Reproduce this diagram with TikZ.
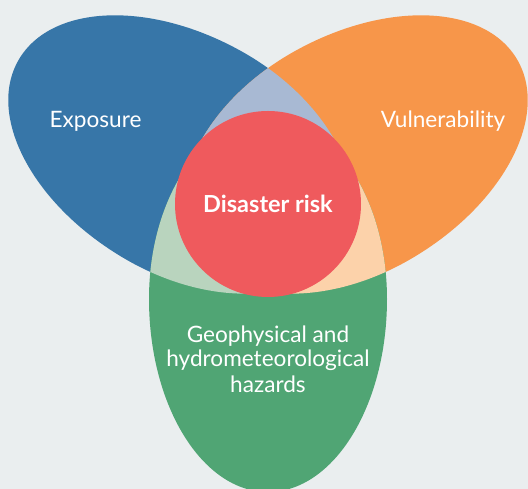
\documentclass[tikz,border=0pt]{standalone}
\usepackage{fontspec}
\setmainfont{Lato}
\definecolor{bg}{HTML}{EAEEEF}
\definecolor{expo}{HTML}{3776A8}
\definecolor{vuln}{HTML}{F7964A}
\definecolor{haz}{HTML}{50A574}
\definecolor{expovuln}{HTML}{A8B9D3}
\definecolor{expohaz}{HTML}{B9D4BE}
\definecolor{vulnhaz}{HTML}{FCD2AA}
\definecolor{risk}{HTML}{EF5A5D}
\tikzset{
  lbl/.style={text=white, font=\fontsize{22.6}{26}\selectfont, inner sep=0pt},
  riskcircle/.style={circle, fill=risk, minimum size=186pt, inner sep=0pt, text=white, font=\bfseries\fontsize{23.5}{27}\selectfont}
}
\begin{document}
\begin{tikzpicture}[x=1pt,y=1pt]
\fill[bg] (0,0) rectangle (528,489);
\useasboundingbox (0,0) rectangle (528,489);
\def\petal{(119,-95) arc[start angle=0,end angle=180,x radius=119,y radius=181] arc[start angle=180,end angle=360,x radius=119,y radius=193] -- cycle}
\begin{scope}[shift={(268,285)}]
  \fill[expo, rotate=-120] \petal;
  \fill[vuln, rotate=120] \petal;
  \fill[haz] \petal;
  \begin{scope}
    \clip[rotate=-120] \petal;
    \fill[expovuln, rotate=120] \petal;
  \end{scope}
  \begin{scope}
    \clip[rotate=-120] \petal;
    \fill[expohaz] \petal;
  \end{scope}
  \begin{scope}
    \clip[rotate=120] \petal;
    \fill[vulnhaz] \petal;
  \end{scope}
\end{scope}
\node[riskcircle] (risk) at (268,285) {Disaster risk};
\node[lbl, anchor=base] (expl) at (95.5,361) {Exposure};
\node[lbl, anchor=base] (vull) at (443,361) {Vulnerability};
\node[lbl, anchor=base] (haz1) at (268,146) {Geophysical and};
\node[lbl, anchor=base] (haz2) at (268,122) {hydrometeorological};
\node[lbl, anchor=base] (haz3) at (268,96) {hazards};
\end{tikzpicture}
\end{document}
